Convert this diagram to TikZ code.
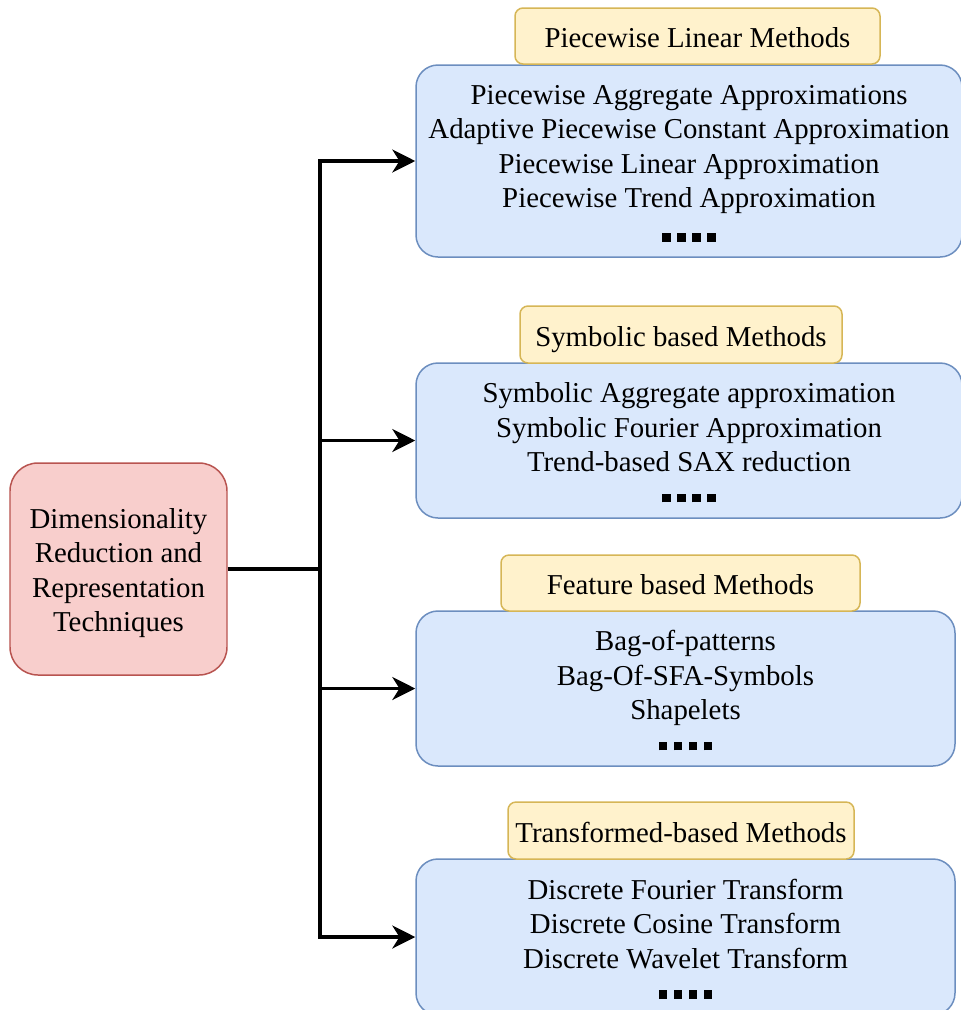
\documentclass[tikz,border=0pt]{standalone}
\usepackage{fontspec}
\setmainfont{Liberation Serif}
\usepackage{xcolor}
\usetikzlibrary{arrows.meta}
\definecolor{blueFill}{HTML}{DAE8FC}
\definecolor{blueLine}{HTML}{6C8EBF}
\definecolor{yellowFill}{HTML}{FFF2CC}
\definecolor{yellowLine}{HTML}{D6B656}
\definecolor{redFill}{HTML}{F8CECC}
\definecolor{redLine}{HTML}{B85450}
\newcommand{\topstrut}{\rule{0pt}{16pt}}
\newcommand{\onedot}{\rule[2.2pt]{4.8pt}{4.8pt}}
\newcommand{\blockdots}{\onedot\hspace{3.8pt}\onedot\hspace{3.8pt}\onedot\hspace{3.8pt}\onedot}

\begin{document}
\begin{tikzpicture}[
    every node/.style={font=\fontsize{16.4pt}{19.6pt}\selectfont, align=center, inner sep=0pt},
    rootbox/.style={draw=redLine, fill=redFill, line width=0.85pt, rounded corners=0.56cm},
    methodbox/.style={draw=blueLine, fill=blueFill, line width=0.85pt, rounded corners=0.44cm},
    headbox/.style={draw=yellowLine, fill=yellowFill, line width=0.85pt, rounded corners=0.16cm, text height=13.5pt, text depth=0pt},
    link/.style={line width=2.2pt, -{Stealth[length=13pt, width=13pt, inset=4pt]}}]
            \useasboundingbox (0,0) rectangle (19.22,-20.2);

            \node[rootbox, minimum width=4.34cm, minimum height=4.24cm] (root) at (2.37,-11.38) {\topstrut Dimensionality\\Reduction and\\Representation\\Techniques};

            \node[methodbox, minimum width=10.92cm, minimum height=3.84cm] (b1) at (13.78,-3.22) {\topstrut Piecewise Aggregate Approximations\\Adaptive Piecewise Constant Approximation\\Piecewise Linear Approximation\\Piecewise Trend Approximation\\[2pt]\blockdots};
            \node[methodbox, minimum width=10.92cm, minimum height=3.10cm] (b2) at (13.78,-8.81) {\topstrut Symbolic Aggregate approximation\\Symbolic Fourier Approximation\\Trend-based SAX reduction\\\blockdots};
            \node[methodbox, minimum width=10.78cm, minimum height=3.10cm] (b3) at (13.71,-13.77) {\topstrut Bag-of-patterns\\Bag-Of-SFA-Symbols\\Shapelets\\\blockdots};
            \node[methodbox, minimum width=10.78cm, minimum height=3.12cm] (b4) at (13.71,-18.74) {\topstrut Discrete Fourier Transform\\Discrete Cosine Transform\\Discrete Wavelet Transform\\\blockdots};

            \node[headbox, minimum width=7.30cm, minimum height=1.12cm] (h1) at (13.95,-0.72) {Piecewise Linear Methods};
            \node[headbox, minimum width=6.44cm, minimum height=1.14cm] (h2) at (13.62,-6.69) {Symbolic based Methods};
            \node[headbox, minimum width=7.18cm, minimum height=1.12cm] (h3) at (13.61,-11.66) {Feature based Methods};
            \node[headbox, minimum width=6.92cm, minimum height=1.14cm] (h4) at (13.62,-16.61) {Transformed-based Methods};

            \coordinate (split) at (6.40,-11.38);
            \draw[line width=2.2pt] (root.east) -- (split);
            \draw[link] (split) |- (b1.west);
            \draw[link] (split) |- (b4.west);
            \draw[link] (split |- b2.west) -- (b2.west);
            \draw[link] (split |- b3.west) -- (b3.west);

        \end{tikzpicture}
\end{document}
